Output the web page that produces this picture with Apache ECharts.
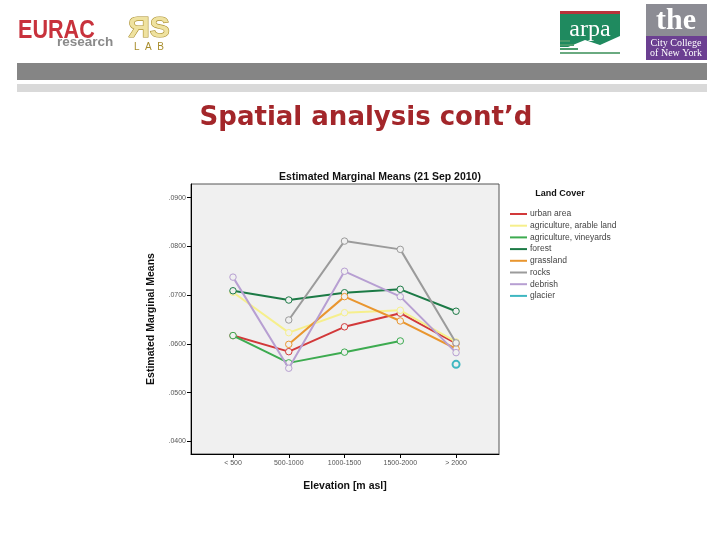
<!DOCTYPE html>
<html>
<head>
<meta charset="utf-8">
<script src="https://cdn.jsdelivr.net/npm/echarts@6/dist/echarts.min.js"></script>
<style>
html,body{margin:0;padding:0;background:#fff;}
#c{width:720px;height:540px;}
</style>
</head>
<body>
<div id="c"></div>
<script>
var categories = ['< 500', '500-1000', '1000-1500', '1500-2000', '> 2000'];
var yTicks = [0.04, 0.05, 0.06, 0.07, 0.08, 0.09];
var seriesNames = ['urban area', 'agriculture, arable land', 'agriculture, vineyards', 'forest', 'grassland', 'rocks', 'debrish', 'glacier'];
var urbanArea     = [0.0617, 0.0584, 0.0635, 0.0663, 0.0601];
var arableLand    = [0.0706, 0.0623, 0.0664, 0.0669, 0.0604];
var vineyards     = [0.0617, 0.0561, 0.0583, 0.0606, null];
var forest        = [0.0709, 0.0690, 0.0705, 0.0712, 0.0667];
var grassland     = [null, 0.0599, 0.0697, 0.0647, 0.0590];
var rocks         = [null, 0.0649, 0.0811, 0.0794, 0.0602];
var debrish       = [0.0737, 0.0550, 0.0749, 0.0697, 0.0582];
var glacier       = [null, null, null, null, 0.0558];
var seriesValues = [urbanArea, arableLand, vineyards, forest, grassland, rocks, debrish, glacier];
var seriesColors = ['#d2393a', '#f6ef8c', '#3dab50', '#1c7a46', '#e9962f', '#9b9b9b', '#b79fd2', '#3fb7c1'];

function pairs(arr) {
  var out = [];
  arr.forEach(function (v, i) { if (v !== null) out.push([i, v]); });
  return out;
}

var chart = echarts.init(document.getElementById('c'), null, {renderer: 'canvas'});
var FONT = 'Liberation Sans';

var series = seriesNames.map(function (name, k) {
  return {
    name: name,
    type: 'line',
    data: pairs(seriesValues[k]),
    symbol: 'circle',
    symbolSize: name === 'glacier' ? 7 : 6.5,
    color: seriesColors[k],
    lineStyle: {width: 2, color: seriesColors[k]},
    itemStyle: {color: '#f0f0f0', borderColor: seriesColors[k], borderWidth: name === 'glacier' ? 2 : 1},
    emphasis: {disabled: true},
    animation: false,
    z: 2 + k
  };
});

var legendData = seriesNames.map(function (name, k) {
  return {name: name, itemStyle: {color: seriesColors[k], borderWidth: 0}};
});

var option = {
  animation: false,
  backgroundColor: '#ffffff',
  grid: {
    left: 191, top: 184, width: 308, height: 270,
    show: true, backgroundColor: '#f0f0f0', borderColor: '#555555', borderWidth: 1
  },
  xAxis: {
    type: 'value',
    min: -0.753, max: 4.77,
    splitLine: {show: false},
    axisLine: {show: true, onZero: false, lineStyle: {color: '#000', width: 1}},
    axisTick: {show: true, customValues: [0, 1, 2, 3, 4], length: 4, lineStyle: {color: '#000'}},
    axisLabel: {customValues: [0, 1, 2, 3, 4], formatter: function (v) { return categories[Math.round(v)]; },
      fontFamily: FONT, fontSize: 7, color: '#555', margin: 6},
    name: 'Elevation [m asl]',
    nameLocation: 'middle',
    nameGap: 27,
    nameTextStyle: {fontFamily: FONT, fontSize: 10.5, fontWeight: 'bold', color: '#111'}
  },
  yAxis: {
    type: 'value',
    min: 0.03739, max: 0.09282,
    splitLine: {show: false},
    axisLine: {show: true, onZero: false, lineStyle: {color: '#000', width: 1}},
    axisTick: {show: true, customValues: yTicks, length: 4, lineStyle: {color: '#000'}},
    axisLabel: {customValues: yTicks, formatter: function (v) { return '.' + v.toFixed(4).slice(2); },
      fontFamily: FONT, fontSize: 7, color: '#555', margin: 5},
    name: 'Estimated Marginal Means',
    nameLocation: 'middle',
    nameGap: 34,
    nameRotate: 90,
    nameTextStyle: {fontFamily: FONT, fontSize: 10.5, fontWeight: 'bold', color: '#111'}
  },
  legend: {
    orient: 'vertical',
    left: 505, top: 204,
    itemWidth: 17, itemHeight: 2,
    itemGap: 1.7,
    icon: 'rect',
    data: legendData,
    selectedMode: false,
    textStyle: {fontFamily: FONT, fontSize: 8.5, color: '#444', lineHeight: 10, padding: [0, 0, 0, -2]}
  },
  graphic: [
    {type: 'rect', shape: {x: 17, y: 63, width: 690, height: 17}, style: {fill: '#858585'}, silent: true},
    {type: 'rect', shape: {x: 17, y: 84, width: 690, height: 8}, style: {fill: '#d9d9d9'}, silent: true},
    {type: 'text', x: 366, y: 118, silent: true,
      style: {text: 'Spatial analysis cont\u2019d', fill: '#a3262a', font: 'bold 26px "DejaVu Sans"', textAlign: 'center', textVerticalAlign: 'middle'}},
    {type: 'text', x: 18, y: 31, scaleX: 0.83, silent: true,
      style: {text: 'EURAC', fill: '#c8323c', font: 'bold 26px "Liberation Sans"', textVerticalAlign: 'middle'}},
    {type: 'text', x: 57, y: 42, silent: true,
      style: {text: 'research', fill: '#8a8a8a', font: 'bold 13.5px "Liberation Sans"', textVerticalAlign: 'middle'}},
    {type: 'text', x: 149, y: 29, silent: true,
      style: {text: '\u042FS', fill: '#efe2a0', stroke: '#a88c2a', lineWidth: 1.2, font: 'bold 30px "Liberation Sans"', textAlign: 'center', textVerticalAlign: 'middle'}},
    {type: 'text', x: 149, y: 47, silent: true,
      style: {text: 'L  A  B', fill: '#a88c2a', font: '10px "Liberation Sans"', textAlign: 'center', textVerticalAlign: 'middle'}},
    {type: 'rect', shape: {x: 560, y: 13, width: 60, height: 34}, style: {fill: '#1f8a5f'}, silent: true},
    {type: 'rect', shape: {x: 560, y: 11, width: 60, height: 3}, style: {fill: '#b8343a'}, silent: true},
    {type: 'polygon', shape: {points: [[568, 47], [585, 40], [600, 45], [620, 36], [620, 48], [568, 48]]}, style: {fill: '#ffffff'}, silent: true},
    {type: 'text', x: 590, y: 30, silent: true,
      style: {text: 'arpa', fill: '#ffffff', font: '24px "Liberation Serif"', textAlign: 'center', textVerticalAlign: 'middle'}},
    {type: 'rect', shape: {x: 560, y: 40, width: 10, height: 2}, style: {fill: '#4a9a6a'}, silent: true},
    {type: 'rect', shape: {x: 560, y: 44, width: 14, height: 2}, style: {fill: '#4a9a6a'}, silent: true},
    {type: 'rect', shape: {x: 560, y: 48, width: 18, height: 2}, style: {fill: '#4a9a6a'}, silent: true},
    {type: 'rect', shape: {x: 560, y: 52, width: 60, height: 2}, style: {fill: '#6aaa80'}, silent: true},
    {type: 'rect', shape: {x: 646, y: 4, width: 61, height: 32}, style: {fill: '#8c8c94'}, silent: true},
    {type: 'rect', shape: {x: 646, y: 36, width: 61, height: 24}, style: {fill: '#6b3f91'}, silent: true},
    {type: 'text', x: 676, y: 21, silent: true,
      style: {text: 'the', fill: '#ffffff', font: 'bold 30px "Liberation Serif"', textAlign: 'center', textVerticalAlign: 'middle'}},
    {type: 'text', x: 676, y: 43, silent: true,
      style: {text: 'City College', fill: '#ffffff', font: '10px "Liberation Serif"', textAlign: 'center', textVerticalAlign: 'middle'}},
    {type: 'text', x: 676, y: 53, silent: true,
      style: {text: 'of New York', fill: '#ffffff', font: '10px "Liberation Serif"', textAlign: 'center', textVerticalAlign: 'middle'}},
    {type: 'text', x: 380, y: 177, silent: true,
      style: {text: 'Estimated Marginal Means (21 Sep 2010)', fill: '#111', font: 'bold 10.5px "Liberation Sans"', textAlign: 'center', textVerticalAlign: 'middle'}},
    {type: 'text', x: 560, y: 194, silent: true,
      style: {text: 'Land Cover', fill: '#111', font: 'bold 9px "Liberation Sans"', textAlign: 'center', textVerticalAlign: 'middle'}}
  ],
  series: series
};
chart.setOption(option);
</script>
</body>
</html>
